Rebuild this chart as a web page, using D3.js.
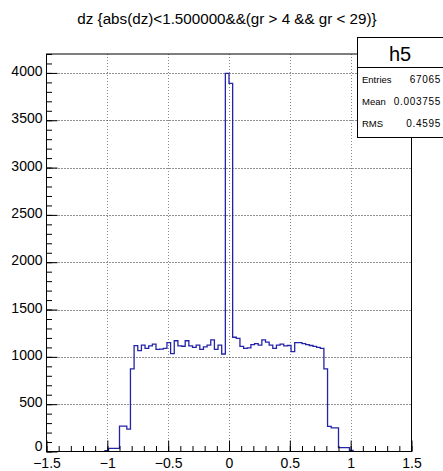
<!DOCTYPE html>
<html><head><meta charset="utf-8">
<script src="https://cdn.jsdelivr.net/npm/d3@7"></script>
<style>
body{margin:0;background:#fff}
svg{display:block}
text{font-family:"Liberation Sans",Arial,Helvetica,sans-serif;fill:#000}
</style>
</head><body>
<script>
// ---- data ----
const histTitle = "dz {abs(dz)<1.500000&&(gr > 4 && gr < 29)}";
const histName = "h5";
const binLow = -1.5;
const binWidth = 0.03;
const counts = [
  0,0,0,0,0,0,0,0,0,0,0,0,0,0,0,0,
  8,32,32,32,268,268,236,873,
  1118,1065,1125,1090,1115,1135,1080,1082,1090,1150,1035,1170,1115,1112,1170,1115,1100,1125,1080,1105,1125,1180,1080,1125,1030,
  3995,3890,
  1207,1195,1110,1090,1095,1130,1140,1125,1180,1155,1125,1090,1125,1135,1115,1120,1056,1150,1150,1140,1130,1120,1110,1100,1090,
  873,266,250,250,42,42,42,12,
  0,0,0,0,0,0,0,0,0,0,0,0,0,0,0,0
];
const xTicks = [-1.5,-1,-0.5,0,0.5,1,1.5];
const xTickLabels = ["\u22121.5","\u22121","\u22120.5","0","0.5","1","1.5"];
const xMinorTicks = d3.range(-15,16).map(i=>i/10);
const yTicks = [0,500,1000,1500,2000,2500,3000,3500,4000];
const yTickLabels = ["0","500","1000","1500","2000","2500","3000","3500","4000"];
const yMinorTicks = d3.range(0,43).map(i=>i*100);
const statsLabels = ["Entries","Mean","RMS"];
const statsValues = ["67065","0.003755","0.4595"];

// ---- layout ----
const W = 443, H = 471;
const L = 46.5, R = 411.5, T = 54, B = 451.5;
const x = d3.scaleLinear().domain([-1.5,1.5]).range([L,R]);
const y = d3.scaleLinear().domain([0,4200]).range([B,T]);

const svg = d3.select("body").append("svg").attr("width",W).attr("height",H);

// grid
const grid = svg.append("g");
grid.selectAll(".gx").data(xTicks.filter(d=>d>-1.5&&d<1.5)).enter().append("line")
  .attr("x1",d=>Math.round(x(d))+0.5).attr("x2",d=>Math.round(x(d))+0.5)
  .attr("y1",T).attr("y2",B)
  .attr("stroke","#888").attr("stroke-width",1).attr("stroke-dasharray","1,2");
grid.selectAll(".gy").data(yTicks.filter(d=>d>0)).enter().append("line")
  .attr("x1",L).attr("x2",R)
  .attr("y1",d=>Math.round(y(d))+0.5).attr("y2",d=>Math.round(y(d))+0.5)
  .attr("stroke","#222").attr("stroke-width",1).attr("stroke-dasharray","1,2");

// histogram
const nz = counts.map((c,i)=>c>0?i:-1).filter(i=>i>=0);
const first = nz[0], last = nz[nz.length-1];
const pts = [];
pts.push([x(binLow+first*binWidth), y(0)]);
for(let i=first;i<=last;i++){
  const x0 = x(binLow+i*binWidth), x1 = x(binLow+(i+1)*binWidth);
  pts.push([x0,y(counts[i])]);
  pts.push([x1,y(counts[i])]);
}
pts.push([x(binLow+(last+1)*binWidth), y(0)]);
svg.append("path").attr("d",d3.line()(pts))
  .attr("fill","none").attr("stroke","#2424a8").attr("stroke-width",1.3);

// axes
const yMinor = d3.axisLeft(y).tickValues(yMinorTicks).tickSize(-5.5).tickFormat("");
const yMajor = d3.axisLeft(y).tickValues(yTicks).tickSize(-11).tickPadding(4)
  .tickFormat((d,i)=>yTickLabels[i]);
const xMinor = d3.axisBottom(x).tickValues(xMinorTicks).tickSize(-5.5).tickFormat("");
const xMajor = d3.axisBottom(x).tickValues(xTicks).tickSize(-11).tickPadding(7)
  .tickFormat((d,i)=>xTickLabels[i]);

function style(g){
  g.select(".domain").remove();
  g.selectAll("line").attr("stroke","#000").attr("stroke-width",1);
  g.selectAll("text").attr("font-size","14px").attr("font-family","'Liberation Sans',Arial,sans-serif");
}
svg.append("g").attr("transform",`translate(${L},0)`).call(yMinor).call(style);
svg.append("g").attr("transform",`translate(${L},0)`).call(yMajor).call(style)
  .selectAll("text").attr("dy","0.18em")
  .attr("transform",d=>d===0?"translate(0,-3.5)":null);
svg.append("g").attr("transform",`translate(0,${B})`).call(xMinor).call(style);
svg.append("g").attr("transform",`translate(0,${B})`).call(xMajor).call(style)
  .selectAll("text").attr("dy","0.66em");

// frame
svg.append("rect").attr("x",L).attr("y",T).attr("width",R-L).attr("height",B-T)
  .attr("fill","none").attr("stroke","#000").attr("stroke-width",1);

// title
svg.append("text").attr("x",227).attr("y",24).attr("text-anchor","middle")
  .attr("font-size","15.2px").text(histTitle);

// stats box
const bx = 357.5, by = 37.5, bw = 90, bh = 100, divY = 67.5;
svg.append("rect").attr("x",bx).attr("y",by).attr("width",bw).attr("height",bh)
  .attr("fill","#fff").attr("stroke","#000").attr("stroke-width",1);
svg.append("line").attr("x1",bx).attr("x2",W).attr("y1",divY).attr("y2",divY)
  .attr("stroke","#000").attr("stroke-width",1);
svg.append("text").attr("x",400).attr("y",61).attr("text-anchor","middle")
  .attr("font-size","20px").text(histName);
statsLabels.forEach((lab,i)=>{
  const yy = 83 + i*22;
  svg.append("text").attr("x",362).attr("y",yy).attr("font-size","9.5px").text(lab);
  svg.append("text").attr("x",441).attr("y",yy).attr("text-anchor","end")
    .attr("font-size","10px").attr("letter-spacing","0.7px").text(statsValues[i]);
});
</script>
</body></html>
